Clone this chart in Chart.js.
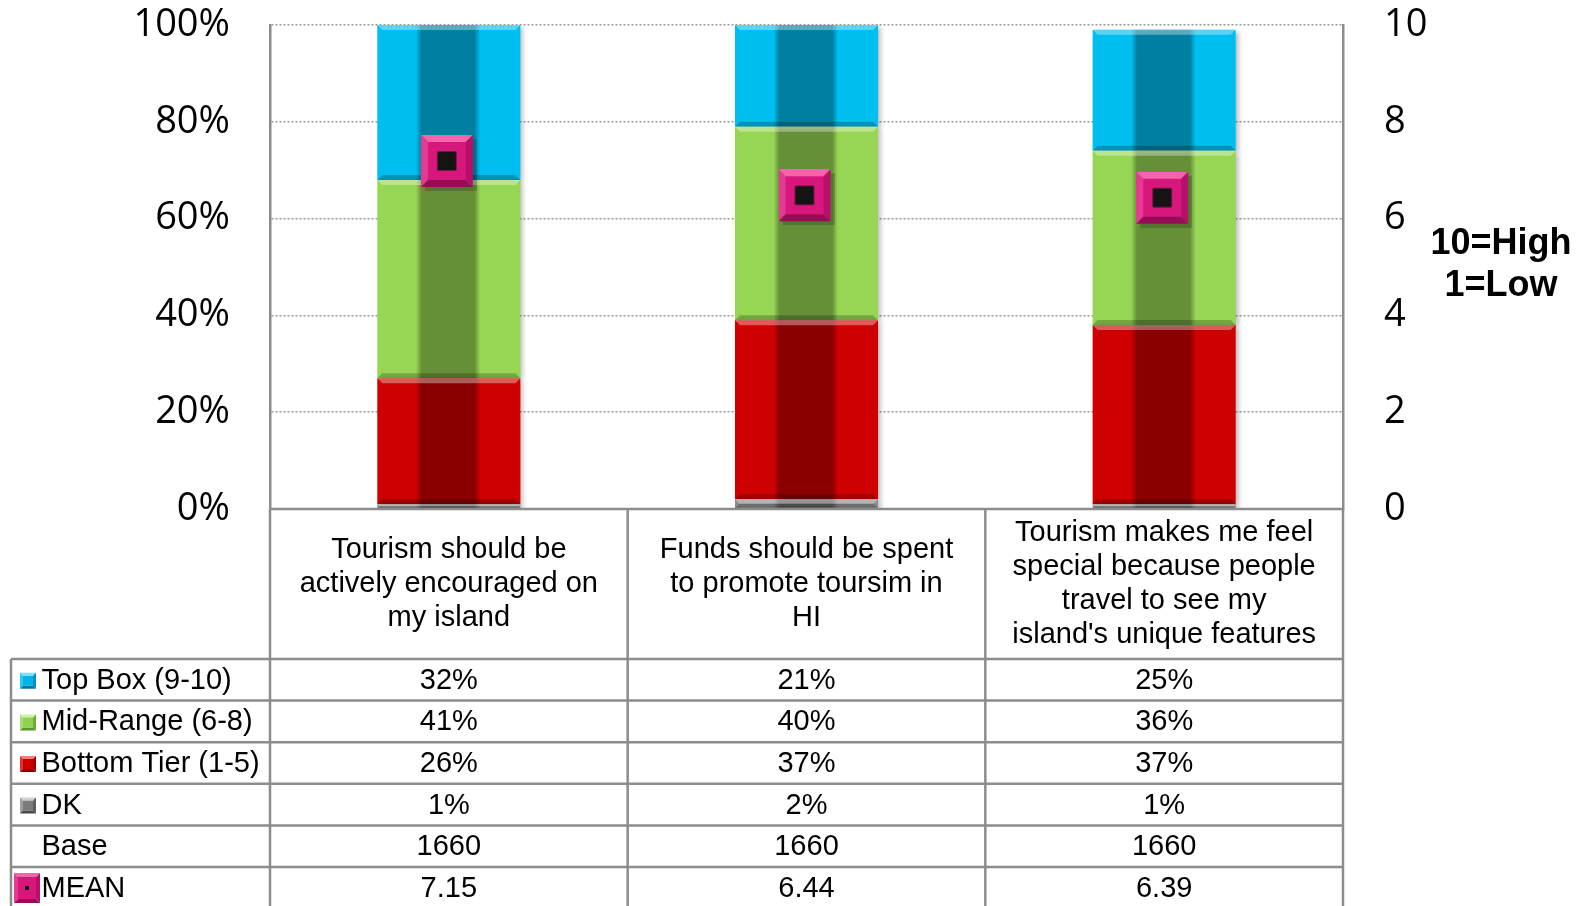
<!DOCTYPE html>
<html>
<head>
<meta charset="utf-8">
<script src="https://cdn.jsdelivr.net/npm/chart.js@4.4.0/dist/chart.umd.min.js"></script>
<style>
  html, body { margin: 0; padding: 0; background: #fff; }
</style>
</head>
<body>
<canvas id="tourism" width="1585" height="906"></canvas>
<script>
const categories = [
    ['Tourism should be', 'actively encouraged on', 'my island'],
    ['Funds should be spent', 'to promote toursim in', 'HI'],
    ['Tourism makes me feel', 'special because people', 'travel to see my', "island's unique features"]
];
const topBox = [32, 21, 25];
const midRange = [41, 40, 36];
const bottomTier = [26, 37, 37];
const dk = [1, 2, 1];
const base = [1660, 1660, 1660];
const mean = [7.15, 6.44, 6.39];
const pctTicks = [0, 20, 40, 60, 80, 100];
const meanTicks = [0, 2, 4, 6, 8, 10];

const LINE = '#8c8c8c';
const TABLE_FONT = '29px "Liberation Sans", Arial, sans-serif';
const AXIS_FONT = { family: '"Open Sans", sans-serif', size: 38 };

const colors = {
    top: 'rgb(0, 190, 240)',
    mid: 'rgb(150, 214, 84)',
    bottom: 'rgb(206, 0, 0)',
    dk: 'rgb(140, 140, 140)'
};

function poly(ctx, pts, fill) {
    ctx.fillStyle = fill;
    ctx.beginPath();
    ctx.moveTo(pts[0][0], pts[0][1]);
    for (let i = 1; i < pts.length; i++) ctx.lineTo(pts[i][0], pts[i][1]);
    ctx.closePath();
    ctx.fill();
}

// square with bevelled edges (light top, dark bottom)
function bevelBox(ctx, x, y, w, h, b, face, light, left, right, dark) {
    poly(ctx, [[x, y], [x + w, y], [x + w - b, y + b], [x + b, y + b]], light);
    poly(ctx, [[x, y], [x + b, y + b], [x + b, y + h - b], [x, y + h]], left);
    poly(ctx, [[x + w, y], [x + w, y + h], [x + w - b, y + h - b], [x + w - b, y + b]], right);
    poly(ctx, [[x, y + h], [x + w, y + h], [x + w - b, y + h - b], [x + b, y + h - b]], dark);
    ctx.fillStyle = face;
    ctx.fillRect(x + b, y + b, w - 2 * b, h - 2 * b);
}

function drawMeanMarker(ctx, x, y, w, h, b, dot) {
    bevelBox(ctx, x, y, w, h, b, '#d8177c', '#f364ad', '#e53a93', '#b8106a', '#980c55');
    ctx.fillStyle = '#141414';
    ctx.fillRect(x + (w - dot) / 2, y + (h - dot) / 2, dot, dot);
}

// marker image used as point style for the MEAN series
const marker = document.createElement('canvas');
marker.width = 56;
marker.height = 56;
(function () {
    const c = marker.getContext('2d');
    c.fillStyle = 'rgba(0,0,0,0.18)';
    c.fillRect(4, 4, 52, 52);
    drawMeanMarker(c, 0, 0, 52, 52, 7, 19);
})();

// glassy look on each bar segment: dark centre band, light top edge, dark bottom edge
const barShade = {
    id: 'barShade',
    afterDatasetDraw(chart, args) {
        if (args.meta.type !== 'bar') return;
        const ctx = chart.ctx;
        ctx.save();
        args.meta.data.forEach(el => {
            const w = el.width;
            const left = el.x - w / 2;
            const top = Math.min(el.y, el.base);
            const h = Math.abs(el.base - el.y);
            if (h < 0.5) return;
            const g = ctx.createLinearGradient(left, 0, left + w, 0);
            g.addColorStop(0, 'rgba(0,0,0,0)');
            g.addColorStop(0.27, 'rgba(0,0,0,0)');
            g.addColorStop(0.31, 'rgba(0,0,0,0.33)');
            g.addColorStop(0.68, 'rgba(0,0,0,0.33)');
            g.addColorStop(0.72, 'rgba(0,0,0,0)');
            g.addColorStop(1, 'rgba(0,0,0,0)');
            ctx.fillStyle = g;
            ctx.fillRect(left, top, w, h);
            const b = Math.min(5, h / 2);
            poly(ctx, [[left, top], [left + w, top], [left + w - b, top + b], [left + b, top + b]], 'rgba(255,255,255,0.35)');
            poly(ctx, [[left, top + h], [left + w, top + h], [left + w - b, top + h - b], [left + b, top + h - b]], 'rgba(0,0,0,0.22)');
        });
        ctx.restore();
    }
};

// data table under the plot plus the scale note on the right
const dataTable = {
    id: 'dataTable',
    afterDraw(chart) {
        const ctx = chart.ctx;
        const area = chart.chartArea;
        const n = categories.length;
        const colW = (area.right - area.left) / n;
        const xs = [];
        for (let i = 0; i <= n; i++) xs.push(area.left + i * colW);
        const tableLeft = 11;
        const headTop = area.bottom;
        const headBottom = 659;
        const rowH = 41.6;
        const rows = [
            { label: 'Top Box (9-10)', icon: ['#00b4e8', '#7ee0ff', '#2cc8f5', '#0090c0', '#0078a8'], values: topBox.map(v => v + '%') },
            { label: 'Mid-Range (6-8)', icon: ['#8fd14f', '#d2f0a8', '#a8de72', '#6fae30', '#5b9626'], values: midRange.map(v => v + '%') },
            { label: 'Bottom Tier (1-5)', icon: ['#cc0000', '#ff7a7a', '#e03030', '#a00000', '#880000'], values: bottomTier.map(v => v + '%') },
            { label: 'DK', icon: ['#7a7a7a', '#d0d0d0', '#a0a0a0', '#5e5e5e', '#4a4a4a'], values: dk.map(v => v + '%') },
            { label: 'Base', icon: null, values: base.map(v => String(v)) },
            { label: 'MEAN', icon: 'mean', values: mean.map(v => v.toFixed(2)) }
        ];
        const tableBottom = headBottom + rows.length * rowH;

        ctx.save();
        ctx.fillStyle = '#000';
        ctx.font = TABLE_FONT;
        ctx.textAlign = 'center';
        ctx.textBaseline = 'middle';

        // header cells: category names
        const headMid = (headTop + headBottom) / 2;
        categories.forEach((lines, i) => {
            const cx = chart.scales.x.getPixelForValue(i);
            const lh = 33.8;
            lines.forEach((t, k) => {
                ctx.fillText(t, cx, headMid + (k - (lines.length - 1) / 2) * lh);
            });
        });

        // body rows
        rows.forEach((r, j) => {
            const y0 = headBottom + j * rowH;
            const cy = y0 + rowH / 2 + 1;
            if (r.icon === 'mean') {
                drawMeanMarker(ctx, 14, y0 + 6, 26, 30, 4, 4);
            } else if (r.icon) {
                const c = r.icon;
                bevelBox(ctx, 20, cy - 8, 16, 16, 3, c[0], c[1], c[2], c[3], c[4]);
            }
            ctx.fillStyle = '#000';
            ctx.textAlign = 'center';
            r.values.forEach((v, i) => {
                ctx.fillText(v, chart.scales.x.getPixelForValue(i), cy);
            });
            ctx.textAlign = 'left';
            ctx.fillText(r.label, 41.5, cy);
        });

        // grid lines of the table
        ctx.strokeStyle = LINE;
        ctx.lineWidth = 2.5;
        ctx.beginPath();
        ctx.moveTo(xs[0], headTop);
        ctx.lineTo(xs[n], headTop);
        for (let j = 0; j <= rows.length; j++) {
            const y = headBottom + j * rowH;
            ctx.moveTo(tableLeft, y);
            ctx.lineTo(xs[n], y);
        }
        ctx.moveTo(tableLeft, headBottom);
        ctx.lineTo(tableLeft, tableBottom);
        xs.forEach(x => {
            ctx.moveTo(x, headTop);
            ctx.lineTo(x, tableBottom);
        });
        ctx.stroke();

        // scale note
        ctx.font = 'bold 36px "Liberation Sans", Arial, sans-serif';
        ctx.textAlign = 'center';
        ctx.fillStyle = '#000';
        ctx.fillText('10=High', 1501, 244);
        ctx.fillText('1=Low', 1501, 286);
        ctx.restore();
    }
};

const barShadow = {
    id: 'barShadow',
    beforeDatasetDraw(chart, args) {
        if (args.meta.type !== 'bar') return;
        const ctx = chart.ctx;
        ctx.save();
        ctx.shadowColor = 'rgba(0,0,0,0.28)';
        ctx.shadowBlur = 5;
        ctx.shadowOffsetX = 3;
        ctx.shadowOffsetY = 2;
    },
    afterDatasetDraw(chart, args) {
        if (args.meta.type !== 'bar') return;
        chart.ctx.restore();
    }
};

const barCommon = { categoryPercentage: 1.0, barPercentage: 0.4, borderWidth: 0, order: 1, yAxisID: 'y' };

new Chart(document.getElementById('tourism'), {
    type: 'bar',
    data: {
        labels: categories,
        datasets: [
            Object.assign({ label: 'DK', data: dk, backgroundColor: colors.dk }, barCommon),
            Object.assign({ label: 'Bottom Tier (1-5)', data: bottomTier, backgroundColor: colors.bottom }, barCommon),
            Object.assign({ label: 'Mid-Range (6-8)', data: midRange, backgroundColor: colors.mid }, barCommon),
            Object.assign({ label: 'Top Box (9-10)', data: topBox, backgroundColor: colors.top }, barCommon),
            {
                type: 'line',
                label: 'MEAN',
                data: mean,
                yAxisID: 'y2',
                showLine: false,
                pointStyle: marker,
                pointRadius: 26,
                order: 0
            }
        ]
    },
    options: {
        responsive: false,
        animation: false,
        devicePixelRatio: 1,
        layout: { autoPadding: false, padding: { top: 25, bottom: 397, left: 0, right: 0 } },
        plugins: {
            legend: { display: false },
            tooltip: { enabled: false }
        },
        scales: {
            x: { stacked: true, display: false },
            y: {
                stacked: true,
                position: 'left',
                min: 0,
                max: 100,
                afterBuildTicks: s => { s.ticks = pctTicks.map(v => ({ value: v })); },
                afterFit: s => { s.width = 270; },
                // the gap to the labels comes from invisible tick marks
                ticks: { callback: v => v + '%', font: AXIS_FONT, color: '#000', padding: 0 },
                grid: { color: '#999', lineWidth: 1.5, drawTicks: true, tickLength: 40, tickColor: 'rgba(0,0,0,0)' },
                border: { display: true, color: LINE, width: 2.5, dash: [2, 2] }
            },
            y2: {
                position: 'right',
                min: 0,
                max: 10,
                afterBuildTicks: s => { s.ticks = meanTicks.map(v => ({ value: v })); },
                afterFit: s => { s.width = 242; },
                ticks: { font: AXIS_FONT, color: '#000', padding: 0 },
                grid: { drawOnChartArea: false, drawTicks: true, tickLength: 41, tickColor: 'rgba(0,0,0,0)' },
                border: { display: true, color: LINE, width: 2.5 }
            }
        }
    },
    plugins: [barShadow, barShade, dataTable]
});
</script>
</body>
</html>
